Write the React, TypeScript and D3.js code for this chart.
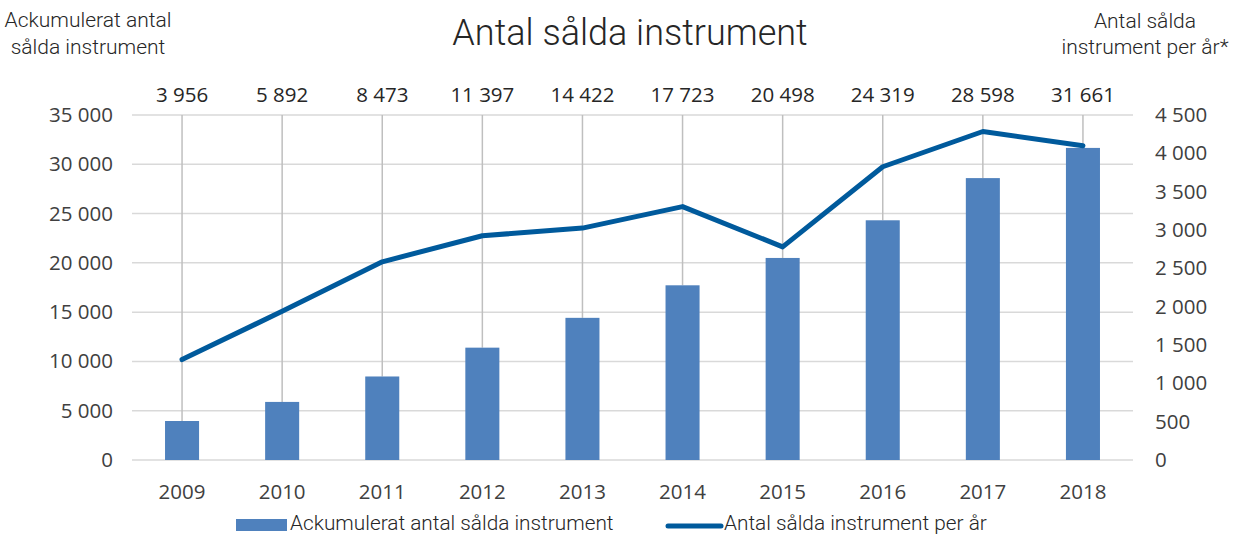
import React from "react";
import * as d3 from "d3";

const years = ["2009", "2010", "2011", "2012", "2013", "2014", "2015", "2016", "2017", "2018"];
const cumulative = [3956, 5892, 8473, 11397, 14422, 17723, 20498, 24319, 28598, 31661];
const perYear = [1310, 1940, 2585, 2925, 3025, 3305, 2780, 3825, 4285, 4100];
const leftTicks = [0, 5000, 10000, 15000, 20000, 25000, 30000, 35000];
const rightTicks = [0, 500, 1000, 1500, 2000, 2500, 3000, 3500, 4000, 4500];

const fmt = (v: number) => String(v).replace(/\B(?=(\d{3})+(?!\d))/g, " ");

export default function App() {
  const W = 1236, H = 535;
  const x0 = 132, x1 = 1133, yTop = 115, yBot = 460;
  const x = d3.scaleBand<string>().domain(years).range([x0, x1]).paddingInner(0.66).paddingOuter(0.33);
  const xc = (y: string) => (x(y) as number) + x.bandwidth() / 2;
  const yL = d3.scaleLinear().domain([0, 35000]).range([yBot, yTop]);
  const yR = d3.scaleLinear().domain([0, 4500]).range([yBot, yTop]);
  const line = d3.line<number>().x((_, i) => xc(years[i])).y((d) => yR(d));
  const light = "'Roboto', 'Liberation Sans', sans-serif";
  const tickFont = "'Open Sans', 'Liberation Sans', sans-serif";
  const barColor = "#4F81BD";
  const lineColor = "#005A9C";
  const tfs = 20.5;
  return (
    <svg width={W} height={H} style={{ position: "absolute", left: 0, top: 0 }}>
      <rect width={W} height={H} fill="#fff" />
      {leftTicks.map((t) => (
        <line key={"g" + t} x1={x0} x2={x1} y1={yL(t)} y2={yL(t)} stroke="#D9D9D9" strokeWidth={1.5} />
      ))}
      {years.map((yr, i) => (
        <line key={"v" + yr} x1={xc(yr)} x2={xc(yr)} y1={yTop} y2={yL(cumulative[i])} stroke="#BFBFBF" strokeWidth={1.5} />
      ))}
      {years.map((yr, i) => (
        <rect key={"b" + yr} x={x(yr)} y={yL(cumulative[i])} width={x.bandwidth()} height={yBot - yL(cumulative[i])} fill={barColor} />
      ))}
      <path d={line(perYear) || ""} fill="none" stroke={lineColor} strokeWidth={5} strokeLinecap="round" strokeLinejoin="round" />
      {years.map((yr, i) => (
        <text key={"tl" + yr} x={xc(yr)} y={102} textAnchor="middle" fontFamily={tickFont} fontSize={tfs} fill="#262626">{fmt(cumulative[i])}</text>
      ))}
      {years.map((yr) => (
        <text key={"xl" + yr} x={xc(yr)} y={499} textAnchor="middle" fontFamily={tickFont} fontSize={tfs} fill="#404040">{yr}</text>
      ))}
      {leftTicks.map((t) => (
        <text key={"ly" + t} x={113} y={yL(t) + 7} textAnchor="end" fontFamily={tickFont} fontSize={tfs} fill="#404040">{fmt(t)}</text>
      ))}
      {rightTicks.map((t) => (
        <text key={"ry" + t} x={1155} y={yR(t) + 7} textAnchor="start" fontFamily={tickFont} fontSize={tfs} fill="#404040">{fmt(t)}</text>
      ))}
      <text x={630} y={45} textAnchor="middle" fontFamily={light} fontWeight={300} fontSize={36} fill="#262626">Antal sålda instrument</text>
      <text x={88} y={27} textAnchor="middle" fontFamily={light} fontWeight={300} fontSize={21} fill="#262626">Ackumulerat antal</text>
      <text x={88} y={54} textAnchor="middle" fontFamily={light} fontWeight={300} fontSize={21} fill="#262626">sålda instrument</text>
      <text x={1145} y={28} textAnchor="middle" fontFamily={light} fontWeight={300} fontSize={21} fill="#262626">Antal sålda</text>
      <text x={1145} y={54} textAnchor="middle" fontFamily={light} fontWeight={300} fontSize={21} fill="#262626">instrument per år*</text>
      <rect x={236} y={519} width={51} height={12} fill={barColor} />
      <text x={290} y={530} fontFamily={light} fontWeight={300} fontSize={20.8} fill="#262626">Ackumulerat antal sålda instrument</text>
      <line x1={668} x2={721} y1={526} y2={526} stroke={lineColor} strokeWidth={5} strokeLinecap="round" />
      <text x={724} y={530} fontFamily={light} fontWeight={300} fontSize={20.8} fill="#262626">Antal sålda instrument per år</text>
    </svg>
  );
}
